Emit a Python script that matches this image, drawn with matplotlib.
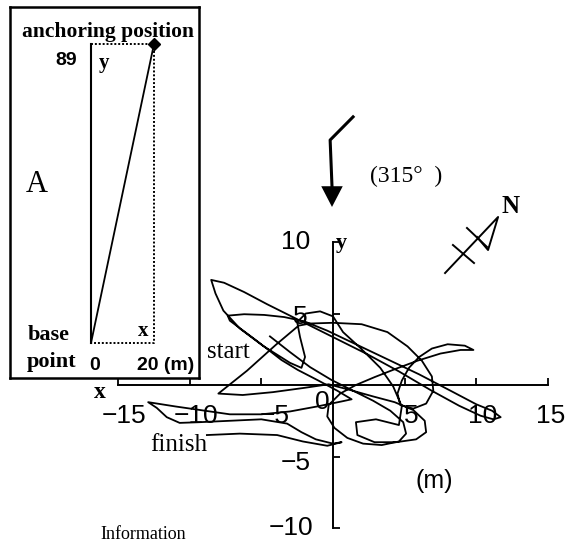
import matplotlib.pyplot as plt

# buoy track relative to the anchoring position (m)
track_x = [-4.4, -3.0, -1.6, -0.1, 1.4, 2.8, 4.0, 4.9,
           5.1, 4.6, 3.4, 2.1, 1.0, 0.1, -0.4, -0.3, 0.5, 1.6, 2.9,
           4.3, 5.9, 7.5, 8.9, 9.8, 9.2, 8.0, 6.9, 6.0, 5.3, 4.8, 4.5, 4.7,
           5.6, 6.5, 7.0, 6.9, 6.2, 5.2, 3.8, 2.0, 0.0, -1.6, -2.4,
           -4.0, -6.0, -8.0, -6.3, -4.2, -2.0, -0.3,
           1.2, 2.8, 4.3, 5.6, 6.4, 6.5, 5.8, 4.4, 2.9, 1.7, 1.6, 3.0, 4.6,
           4.8, 4.2, 3.3, 1.9, 0.7, 0.0, -0.9, -1.9, -2.5, -2.3, -1.95, -2.2,
           -3.0, -4.9, -6.5, -7.65, -8.2, -8.5,
           -7.6, -6.2, -4.6, -3.0, -1.5, 0.4, 2.4, 4.6, 6.8, 8.8, 10.3, 11.2, 11.7,
           11.1, 10.0, 8.2, 6.0, 3.8, 1.6, -0.4, -2.0, -3.4, -4.8, -6.2, -7.35, -7.2,
           -5.4, -3.6, -2.45, -1.0, 0.3, 1.3,
           0.6, -1.1, -3.0, -5.0, -7.2, -9.3, -11.0, -12.9,
           -12.3, -11.6, -10.7, -9.3, -7.2, -5.0, -3.2, -2.2, -1.2, 0.0, 0.6,
           -0.4, -2.1, -3.9, -6.5, -8.8]
track_y = [3.4, 2.3, 1.25, 0.35, -0.4, -1.1, -1.8, -2.6,
           -3.4, -3.95, -4.2, -4.1, -3.7, -3.0, -2.2, -1.4, -0.6, 0.0, 0.55,
           1.1, 1.7, 2.2, 2.45, 2.45, 2.75, 2.85, 2.55, 1.95, 1.2, 0.3, -0.6, -1.4,
           -1.65, -1.3, -0.4, 0.6, 1.7, 2.7, 3.7, 4.25, 4.35, 4.3, 4.15,
           2.8, 1.0, -0.6, -0.7, -0.5, -0.2, 0.05,
           -0.35, -0.8, -1.2, -1.75, -2.5, -3.3, -3.8, -4.0, -4.0, -3.5, -2.6, -2.4, -2.8,
           -1.5, -0.1, 1.2, 2.6, 3.7, 4.8, 5.15, 5.0, 4.4, 3.35, 1.96, 1.2,
           1.55, 2.75, 3.95, 5.2, 6.4, 7.35,
           7.15, 6.5, 5.65, 4.85, 4.1, 3.15, 2.15, 0.95, -0.35, -1.45, -2.15, -2.4, -2.25,
           -1.8, -1.35, -0.4, 0.75, 1.8, 2.85, 3.8, 4.45, 4.75, 4.9, 4.95, 4.85, 4.5,
           3.15, 1.75, 1.05, 0.3, -0.4, -1.0,
           -1.15, -1.5, -1.85, -2.05, -2.05, -1.75, -1.5, -1.2,
           -1.6, -2.25, -2.65, -2.6, -2.5, -2.4, -2.7, -3.3, -3.8, -4.1, -4.0,
           -4.25, -3.95, -3.5, -3.4, -3.5]

x_ticks = [-15, -10, -5, 5, 10, 15]
y_ticks = [-10, -5, 5, 10]
x_labels = ["\u221215", "\u221210", "\u22125", "5", "10", "15"]
y_labels = ["\u221210", "\u22125", "5", "10"]

# inset A: anchoring position seen from the base point (m)
anchor_x = 20
anchor_y = 89

W, H = 567, 542
X0, Y0, SX, SY = 333, 385, 14.33, 14.3   # pixel position of origin, px per metre

SERIF = "Liberation Serif"
SANS = "Liberation Sans"

fig = plt.figure(figsize=(W / 100, H / 100), dpi=100)
ax = fig.add_axes([0, 0, 1, 1])
ax.set_xlim(-X0 / SX, (W - X0) / SX)
ax.set_ylim((Y0 - H) / SY, Y0 / SY)
ax.patch.set_visible(False)

for s in ["top", "right"]:
    ax.spines[s].set_visible(False)
ax.spines["left"].set_position(("data", 0))
ax.spines["bottom"].set_position(("data", 0))
ax.spines["left"].set_bounds(-10, 10)
ax.spines["bottom"].set_bounds(-15, 15)
for s in ["left", "bottom"]:
    ax.spines[s].set_linewidth(1.4)
ax.set_xticks(x_ticks)
ax.set_yticks(y_ticks)
ax.set_xticklabels([])
ax.set_yticklabels([])
ax.tick_params(direction="in", length=5, width=1.3)

ax.plot(track_x, track_y, color="black", lw=1.3, solid_joinstyle="round")

for x, lab in zip(x_ticks, x_labels):
    dx = {-5: 0.95, 15: 0.2}.get(x, 0.45)
    ax.text(x + dx, -2.17, lab, ha="center", va="center", fontsize=19, family=SANS)
ax.text(-0.77, -1.2, "0", ha="center", va="center", fontsize=19, family=SANS)
for y, lab in zip(y_ticks, y_labels):
    ax.text(-2.0 - 0.3 * len(lab), y + (0.0 if abs(y) == 10 else -0.25 * (y > 0) - 0.45 * (y < 0)),
            lab, ha="center", va="center", fontsize=19, family=SANS)

ax.text(0.6, 9.95, "y", ha="center", va="center", fontsize=16, family=SERIF, weight="bold")
ax.text(-16.3, -0.5, "x", ha="center", va="center", fontsize=17, family=SERIF, weight="bold")
ax.text(7.1, -6.7, "(m)", ha="center", va="center", fontsize=18, family=SANS)
ax.text(-7.3, 2.3, "start", ha="center", va="center", fontsize=18, family=SERIF)
ax.text(-10.75, -4.2, "finish", ha="center", va="center", fontsize=18, family=SERIF)

# wind direction arrow
ax.plot([1.4, -0.2, -0.07], [18.75, 17.13, 13.9], color="black", lw=2.2)
ax.arrow(-0.07, 14.0, 0, -1.55, width=0, head_width=1.5, head_length=1.45,
         length_includes_head=True, color="black", lw=0)
ax.text(5.1, 14.55, "(315\u00b0  )", ha="center", va="center", fontsize=17, family=SERIF)

# north sign
ax.plot([7.82, 11.52, 10.82, 10.05], [7.83, 11.75, 9.44, 10.35], color="black", lw=1.4)
ax.plot([8.37, 9.84], [9.79, 8.53], color="black", lw=1.4)
ax.plot([9.35, 10.75], [10.98, 9.65], color="black", lw=1.4)
ax.text(12.4, 12.45, "N", ha="center", va="center", fontsize=18, family=SERIF, weight="bold")

# inset A
L, R, T, B = 10, 199, 7, 378
ix0, iy0, isx, isy = 91, 343, 3.15, 3.36
axi = fig.add_axes([L / W, 1 - B / H, (R - L) / W, (B - T) / H])
axi.set_xlim((L - ix0) / isx, (R - ix0) / isx)
axi.set_ylim(-(B - iy0) / isy, anchor_y + (44 - T) / isy)
axi.set_xticks([])
axi.set_yticks([])
for s in axi.spines.values():
    s.set_linewidth(1.8)
axi.plot([0, 0], [0, anchor_y], color="black", lw=1.5)
axi.plot([0, anchor_x], [0, anchor_y], color="black", lw=1.3)
axi.plot([0, anchor_x, anchor_x, 0], [anchor_y, anchor_y, 0, 0], color="black", lw=1.4, ls=(0, (1, 1)))
axi.plot([anchor_x], [anchor_y], marker="D", color="black", ms=6)

fs = dict(ha="center", va="center")
fig.text(108 / W, 1 - 32 / H, "anchoring position", fontsize=15.5, family=SERIF, weight="bold", **fs)
fig.text(66 / W, 1 - 60 / H, "89", fontsize=14, family=SANS, weight="bold", **fs)
fig.text(104 / W, 1 - 63 / H, "y", fontsize=15, family=SERIF, weight="bold", **fs)
fig.text(37 / W, 1 - 185 / H, "A", fontsize=22, family=SERIF, **fs)
fig.text(143 / W, 1 - 331 / H, "x", fontsize=15, family=SERIF, weight="bold", **fs)
fig.text(49 / W, 1 - 335 / H, "base", fontsize=16, family=SERIF, weight="bold", **fs)
fig.text(52 / W, 1 - 362 / H, "point", fontsize=16, family=SERIF, weight="bold", **fs)
fig.text(95 / W, 1 - 366 / H, "0", fontsize=14, family=SANS, weight="bold", **fs)
fig.text(166 / W, 1 - 366 / H, "20 (m)", fontsize=14, family=SANS, weight="bold", **fs)

fig.text(100 / W, 1 - 539 / H, "Information", fontsize=13, family=SERIF, ha="left", va="baseline")

fig.savefig("out.png", dpi=100)
